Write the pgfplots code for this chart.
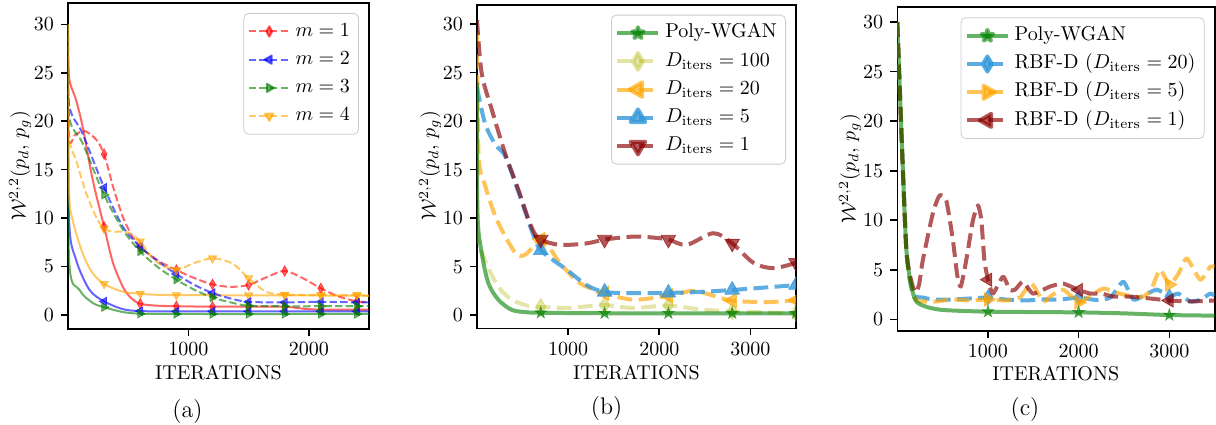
\documentclass[border=0pt]{standalone}
\usepackage{pgfplots}
\pgfplotsset{compat=1.18}
\usetikzlibrary{plotmarks}

% filled five-pointed star, like matplotlib's '*'
\pgfdeclareplotmark{fstar}{%
  \pgfpathmoveto{\pgfqpointpolar{90}{\pgfplotmarksize}}%
  \pgfpathlineto{\pgfqpointpolar{126}{0.38\pgfplotmarksize}}%
  \pgfpathlineto{\pgfqpointpolar{162}{\pgfplotmarksize}}%
  \pgfpathlineto{\pgfqpointpolar{198}{0.38\pgfplotmarksize}}%
  \pgfpathlineto{\pgfqpointpolar{234}{\pgfplotmarksize}}%
  \pgfpathlineto{\pgfqpointpolar{270}{0.38\pgfplotmarksize}}%
  \pgfpathlineto{\pgfqpointpolar{306}{\pgfplotmarksize}}%
  \pgfpathlineto{\pgfqpointpolar{342}{0.38\pgfplotmarksize}}%
  \pgfpathlineto{\pgfqpointpolar{18}{\pgfplotmarksize}}%
  \pgfpathlineto{\pgfqpointpolar{54}{0.38\pgfplotmarksize}}%
  \pgfpathclose\pgfusepathqfillstroke}

\definecolor{ared}{RGB}{255,0,0}
\definecolor{ablue}{RGB}{0,0,255}
\definecolor{agreen}{RGB}{0,128,0}
\definecolor{aorange}{RGB}{255,165,0}
\definecolor{bolive}{HTML}{BCBD22}
\definecolor{bblue}{HTML}{3498DB}
\definecolor{bred}{HTML}{8B0000}

\pgfplotsset{
  refaxis/.style={
    scale only axis, anchor=south west,
    axis line style={line width=0.8pt},
    tick style={line width=0.8pt, black},
    tick align=outside, major tick length=3.5pt,
    xtick pos=bottom, ytick pos=left,
    ytick={0,5,10,15,20,25,30},
    /pgf/number format/set thousands separator={},
    clip marker paths=true,
    legend image code/.code={%
      \draw[mark repeat=2,mark phase=2,#1] plot coordinates {(0pt,0pt) (10.25pt,0pt) (20.5pt,0pt)};},
    legend cell align=left,
    legend style={at={(rel axis cs:1,1)}, xshift=-5pt, yshift=-5pt, anchor=north east,
      draw=black!20, rounded corners=2.5pt, fill=white, fill opacity=0.8,
      draw opacity=1, text opacity=1, inner sep=2pt,
      nodes={text height=7pt, text depth=2.3pt, inner sep=2.4pt}},
  },
  aline/.style={line width=1pt, dash pattern=on 3.7pt off 1.6pt, line join=round},
  asol/.style={line width=1pt, solid, line join=round},
  bline/.style={line width=2pt, dash pattern=on 7.4pt off 3.2pt, line join=round},
  bsol/.style={line width=2pt, solid, line join=round},
  ma1/.style={mark=diamond*, mark size=2.6pt, mark options={solid, xscale=0.75}},
  ma2/.style={mark=triangle*, mark size=2.4pt, mark options={solid, rotate=90}},
  ma3/.style={mark=triangle*, mark size=2.4pt, mark options={solid, rotate=-90}},
  ma4/.style={mark=triangle*, mark size=2.4pt, mark options={solid, rotate=180}},
}

\begin{document}
\begin{tikzpicture}
\useasboundingbox (0,0) rectangle (608pt,212pt);

% ---------------- (a) ----------------
\begin{axis}[refaxis, at={(34pt,47.5pt)}, width=150.5pt, height=163pt,
  xmin=0, xmax=2500, ymin=-1.45, ymax=32.2, xtick={1000,2000}]
  \addlegendimage{ared, opacity=0.6, aline, ma1}\addlegendentry{$m=1$}
  \addlegendimage{ablue, opacity=0.6, aline, ma2}\addlegendentry{$m=2$}
  \addlegendimage{agreen, opacity=0.6, aline, ma3}\addlegendentry{$m=3$}
  \addlegendimage{aorange, opacity=0.6, aline, ma4}\addlegendentry{$m=4$}
  % solid curves
  \addplot[ared, opacity=0.6, asol, smooth, forget plot] coordinates {(0,30) (8,24.6) (67,22.2) (122,19.4) (206,13.9) (300,9.1) (373,5.4) (456,2.9) (520,1.8) (600,1.15) (750,0.95) (900,0.9) (1200,0.85) (1500,0.85) (1800,0.85) (1950,0.65) (2100,0.55) (2400,0.55) (2500,0.55)};
  \addplot[ared, opacity=0.6, only marks, ma1, forget plot] coordinates {(300,9.1) (600,1.15) (900,0.9) (1200,0.85) (1500,0.85) (1800,0.85) (2100,0.55) (2400,0.55)};
  \addplot[ablue, opacity=0.6, asol, smooth, forget plot] coordinates {(0,30) (8,10.1) (67,5.7) (178,2.6) (300,1.4) (456,0.6) (600,0.4) (900,0.37) (1500,0.37) (2500,0.37)};
  \addplot[ablue, opacity=0.6, only marks, ma2, forget plot] coordinates {(300,1.4) (600,0.4) (900,0.37) (1200,0.37) (1500,0.37) (1800,0.37) (2100,0.37) (2400,0.37)};
  \addplot[agreen, opacity=0.6, asol, smooth, forget plot] coordinates {(0,30) (8,6.0) (95,2.6) (206,1.24) (300,0.8) (456,0.3) (600,0.13) (900,0.1) (2500,0.1)};
  \addplot[agreen, opacity=0.6, only marks, ma3, forget plot] coordinates {(300,0.8) (600,0.13) (900,0.1) (1200,0.1) (1500,0.1) (1800,0.1) (2100,0.1) (2400,0.1)};
  \addplot[aorange, opacity=0.6, asol, smooth, forget plot] coordinates {(0,30) (8,13.2) (39,9.8) (122,6.35) (200,4.4) (300,3.2) (456,2.4) (600,2.2) (900,2.05) (2500,2.0)};
  \addplot[aorange, opacity=0.6, only marks, ma4, forget plot] coordinates {(300,3.2) (600,2.2) (900,2.05) (1200,2.05) (1500,2.05) (1800,2.05) (2100,2.05) (2400,2.05)};
  % dashed curves
  \addplot[ared, opacity=0.6, aline, smooth, forget plot] coordinates {(0,30) (8,18.4) (60,18.6) (137,19.0) (234,18.1) (300,16.6) (373,13.3) (456,10.1) (530,8.2) (600,7.0) (750,5.6) (900,4.64) (1050,3.8) (1200,3.16) (1350,2.9) (1500,3.1) (1650,3.9) (1800,4.54) (1950,3.8) (2100,2.75) (2250,1.9) (2400,1.4) (2500,1.35)};
  \addplot[ared, opacity=0.6, only marks, ma1, forget plot] coordinates {(300,16.6) (600,7.0) (900,4.64) (1200,3.16) (1500,3.1) (1800,4.54) (2100,2.75) (2400,1.4)};
  \addplot[ablue, opacity=0.6, aline, smooth, forget plot] coordinates {(0,30) (8,21.8) (122,18.7) (300,13.15) (456,9.1) (600,7.05) (750,5.5) (900,4.22) (1050,3.1) (1200,2.27) (1350,1.7) (1500,1.35) (1800,1.3) (2100,1.35) (2400,1.3) (2500,1.3)};
  \addplot[ablue, opacity=0.6, only marks, ma2, forget plot] coordinates {(300,13.15) (600,7.05) (900,4.22) (1200,2.27) (1500,1.35) (1800,1.3) (2100,1.35) (2400,1.3)};
  \addplot[agreen, opacity=0.6, aline, smooth, forget plot] coordinates {(0,30) (8,20.6) (122,17.7) (300,12.4) (456,8.8) (600,6.55) (750,4.9) (900,3.64) (1050,2.6) (1200,1.8) (1350,1.3) (1500,0.95) (1800,0.9) (2100,0.9) (2400,0.9) (2500,0.9)};
  \addplot[agreen, opacity=0.6, only marks, ma3, forget plot] coordinates {(300,12.4) (600,6.55) (900,3.64) (1200,1.8) (1500,0.95) (1800,0.9) (2100,0.9) (2400,0.9)};
  \addplot[aorange, opacity=0.6, aline, smooth, forget plot] coordinates {(0,30) (8,18.7) (67,16.0) (150,12.6) (234,10.1) (300,8.9) (373,8.6) (456,8.6) (520,8.4) (600,7.6) (680,6.2) (756,5.3) (900,4.64) (1034,5.3) (1200,5.85) (1367,5.3) (1500,3.8) (1645,2.4) (1800,2.1) (2100,2.05) (2400,2.05) (2500,1.95)};
  \addplot[aorange, opacity=0.6, only marks, ma4, forget plot] coordinates {(300,8.9) (600,7.6) (900,4.64) (1200,5.85) (1500,3.8) (1800,2.1) (2100,2.05) (2400,2.05)};
\end{axis}

% ---------------- (b) ----------------
\begin{axis}[refaxis, at={(238.5pt,47.85pt)}, width=159.5pt, height=161.8pt,
  xmin=0, xmax=3500, ymin=-1.35, ymax=32.0, xtick={1000,2000,3000}]
  \addlegendimage{agreen, opacity=0.6, bsol, mark=fstar, mark size=3pt, mark options={solid}}\addlegendentry{Poly-WGAN}
  \addlegendimage{bolive, opacity=0.4, bline, mark=diamond*, mark size=4.2pt, mark options={solid, xscale=0.8}}\addlegendentry{$D_{\mathrm{iters}}=100$}
  \addlegendimage{aorange, opacity=0.65, bline, mark=triangle*, mark size=4.2pt, mark options={solid, rotate=90}}\addlegendentry{$D_{\mathrm{iters}}=20$}
  \addlegendimage{bblue, opacity=0.8, bline, mark=triangle*, mark size=4.2pt, mark options={solid}}\addlegendentry{$D_{\mathrm{iters}}=5$}
  \addlegendimage{bred, opacity=0.65, bline, mark=triangle*, mark size=4.2pt, mark options={solid, rotate=180}}\addlegendentry{$D_{\mathrm{iters}}=1$}
  \addplot[bolive, opacity=0.4, bline, smooth, forget plot] coordinates {(0,22) (5,8.8) (87,5.7) (234,2.95) (381,1.6) (565,0.95) (700,0.85) (983,0.75) (1200,0.9) (1400,1.05) (1714,0.75) (2100,1.0) (2447,0.6) (2800,0.4) (3500,0.2)};
  \addplot[bolive, opacity=0.4, only marks, mark=diamond*, mark size=4.2pt, mark options={solid, xscale=0.8}, forget plot] coordinates {(700,0.85) (1400,1.05) (2100,1.0) (2800,0.4) (3500,0.2)};
  \addplot[aorange, opacity=0.65, bline, smooth, forget plot] coordinates {(0,29.1) (18,16.4) (91,13.3) (201,10.2) (311,8.1) (420,6.4) (475,6.1) (540,6.3) (620,7.1) (700,7.8) (800,6.9) (909,5.4) (1129,3.3) (1400,2.27) (1714,1.6) (2100,2.0) (2374,2.5) (2600,2.0) (2800,1.5) (3180,1.35) (3500,1.55)};
  \addplot[aorange, opacity=0.65, only marks, mark=triangle*, mark size=4.2pt, mark options={solid, rotate=90}, forget plot] coordinates {(700,7.8) (1400,2.27) (2100,2.0) (2800,1.5) (3500,1.55)};
  \addplot[bblue, opacity=0.8, bline, smooth, forget plot] coordinates {(0,23.5) (87,19.8) (200,17.6) (308,16.4) (455,12.7) (601,8.7) (700,6.7) (983,4.7) (1202,3.1) (1400,2.4) (1714,2.27) (2100,2.3) (2447,2.4) (2800,2.6) (3500,3.1)};
  \addplot[bblue, opacity=0.8, only marks, mark=triangle*, mark size=4.2pt, mark options={solid}, forget plot] coordinates {(700,6.7) (1400,2.4) (2100,2.3) (2800,2.6) (3500,3.1)};
  \addplot[bred, opacity=0.65, bline, smooth, forget plot] coordinates {(0,30.4) (52,24.9) (162,21.2) (308,16.7) (455,12.9) (601,9.0) (700,7.8) (909,7.25) (1202,7.4) (1400,7.8) (1714,8.1) (1934,8.0) (2100,7.8) (2301,7.25) (2593,8.45) (2800,7.4) (3033,5.4) (3253,4.85) (3500,5.4)};
  \addplot[bred, opacity=0.65, only marks, mark=triangle*, mark size=4.2pt, mark options={solid, rotate=180}, forget plot] coordinates {(700,7.8) (1400,7.8) (2100,7.8) (2800,7.4) (3500,5.4)};
  \addplot[agreen, opacity=0.6, bsol, smooth, forget plot] coordinates {(0,24) (5,10.5) (52,6.4) (125,3.3) (234,1.6) (381,0.55) (550,0.3) (700,0.25) (1400,0.2) (2100,0.2) (2800,0.2) (3500,0.2)};
  \addplot[agreen, opacity=0.6, only marks, mark=fstar, mark size=3pt, mark options={solid}, forget plot] coordinates {(700,0.25) (1400,0.2) (2100,0.2) (2800,0.2) (3500,0.2)};
\end{axis}

% ---------------- (c) ----------------
\begin{axis}[refaxis, at={(448.65pt,46.65pt)}, width=158.7pt, height=161.7pt,
  xmin=0, xmax=3500, ymin=-1.15, ymax=31.5, xtick={1000,2000,3000}]
  \addlegendimage{agreen, opacity=0.6, bsol, mark=fstar, mark size=3pt, mark options={solid}}\addlegendentry{Poly-WGAN}
  \addlegendimage{bblue, opacity=0.8, bline, mark=diamond*, mark size=3.8pt, mark options={solid, xscale=0.8}}\addlegendentry{RBF-D $(D_{\mathrm{iters}}=20)$}
  \addlegendimage{aorange, opacity=0.65, bline, mark=triangle*, mark size=3.8pt, mark options={solid, rotate=-90}}\addlegendentry{RBF-D $(D_{\mathrm{iters}}=5)$}
  \addlegendimage{bred, opacity=0.65, bline, mark=triangle*, mark size=3.8pt, mark options={solid, rotate=90}}\addlegendentry{RBF-D $(D_{\mathrm{iters}}=1)$}
  \addplot[bblue, opacity=0.8, bline, smooth, tension=0.35, forget plot] coordinates {(0,30) (98,7.3) (171,2.6) (282,2.2) (400,2.0) (600,2.0) (800,2.1) (1000,2.2) (1200,2.0) (1400,1.9) (1600,2.0) (1800,2.0) (2000,2.2) (2198,1.95) (2350,2.2) (2491,3.8) (2602,2.0) (2700,2.3) (2861,3.0) (3000,2.3) (3100,2.6) (3229,1.8) (3350,2.0) (3450,2.6) (3500,2.4)};
  \addplot[bblue, opacity=0.8, only marks, mark=diamond*, mark size=3.8pt, mark options={solid, xscale=0.8}, forget plot] coordinates {(1000,2.2) (2000,2.2) (3000,2.3)};
  \addplot[aorange, opacity=0.65, bline, smooth, tension=0.35, forget plot] coordinates {(0,30) (98,7.3) (190,2.2) (300,1.8) (430,1.8) (600,2.0) (800,1.9) (1000,2.0) (1200,1.9) (1350,2.2) (1480,3.6) (1608,1.8) (1700,2.4) (1829,3.0) (2000,1.7) (2100,2.2) (2271,3.1) (2450,2.6) (2600,2.3) (2713,2.3) (2800,3.0) (2897,5.0) (3000,3.5) (3100,4.6) (3193,6.15) (3340,4.0) (3450,5.3) (3500,5.3)};
  \addplot[aorange, opacity=0.65, only marks, mark=triangle*, mark size=3.8pt, mark options={solid, rotate=-90}, forget plot] coordinates {(1000,2.0) (2000,1.7) (3000,3.5)};
  \addplot[bred, opacity=0.65, bline, smooth, tension=0.35, forget plot] coordinates {(0,30) (98,7.3) (190,2.8) (240,3.5) (282,6.0) (392,10.7) (466,12.5) (540,12.0) (613,8.0) (660,4.5) (700,3.3) (761,6.0) (834,10.0) (890,11.5) (927,10.0) (960,6.0) (1000,4.0) (1055,2.6) (1166,4.3) (1240,2.96) (1300,3.0) (1387,3.8) (1497,2.6) (1682,3.3) (1829,3.6) (2000,2.96) (2130,2.6) (2250,2.6) (2381,2.3) (2550,2.3) (2787,2.1) (3000,1.9) (3229,1.8) (3500,1.9)};
  \addplot[bred, opacity=0.65, only marks, mark=triangle*, mark size=3.8pt, mark options={solid, rotate=90}, forget plot] coordinates {(1000,4.0) (2000,2.96) (3000,1.9)};
  \addplot[agreen, opacity=0.6, bsol, smooth, tension=0.35, forget plot] coordinates {(0,30) (98,7.3) (190,2.1) (319,1.27) (503,0.94) (1000,0.77) (2000,0.7) (2500,0.6) (3000,0.43) (3500,0.37)};
  \addplot[agreen, opacity=0.6, only marks, mark=fstar, mark size=3pt, mark options={solid}, forget plot] coordinates {(1000,0.77) (2000,0.7) (3000,0.43)};
\end{axis}

% labels
\node[rotate=90] at (10pt,129pt) {$\mathcal{W}^{2,2}(p_d,\, p_g)$};
\node[rotate=90] at (215pt,129pt) {$\mathcal{W}^{2,2}(p_d,\, p_g)$};
\node[rotate=90] at (425pt,127.5pt) {$\mathcal{W}^{2,2}(p_d,\, p_g)$};
\node at (109.25pt,25.5pt) {ITERATIONS};
\node at (318.2pt,25.8pt) {ITERATIONS};
\node at (527.9pt,25.3pt) {ITERATIONS};
\node[font=\fontsize{12}{14}\selectfont] at (93.7pt,6.2pt) {(a)};
\node[font=\fontsize{12}{14}\selectfont] at (303.3pt,7.5pt) {(b)};
\node[font=\fontsize{12}{14}\selectfont] at (512.5pt,7pt) {(c)};
\end{tikzpicture}
\end{document}
